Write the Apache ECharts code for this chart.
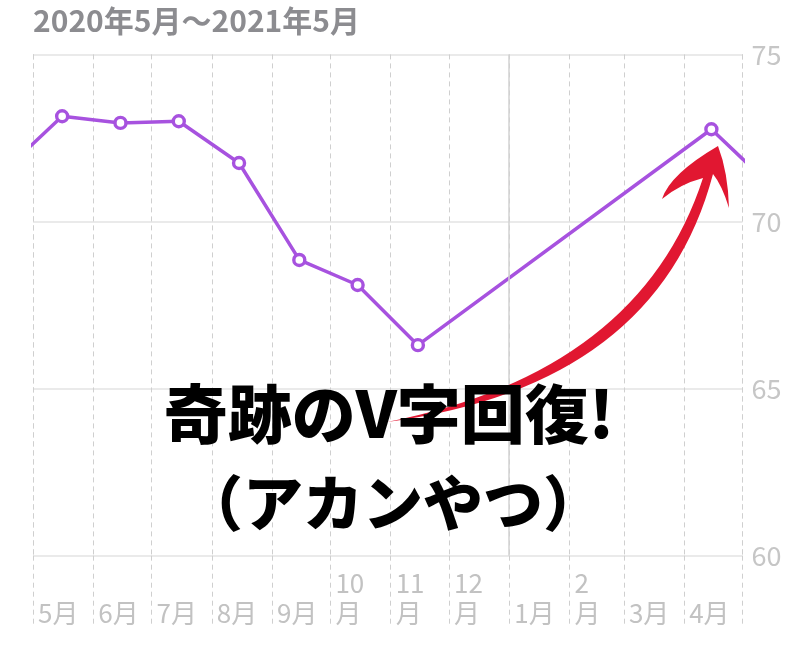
<!DOCTYPE html>
<html>
<head>
<meta charset="utf-8">
<script src="https://cdn.jsdelivr.net/npm/echarts@6/dist/echarts.min.js"></script>
<style>html,body{margin:0;padding:0;background:#fff}#c{width:800px;height:654px}</style>
</head>
<body>
<div id="c"></div>
<script>
const titleText = '2020年5月～2021年5月';
const dates = ['2020-04-15','2020-05-16','2020-06-15','2020-07-15','2020-08-15','2020-09-15','2020-10-15','2020-11-15','2021-04-15','2021-05-15'];
const values = [71.45, 73.15, 72.95, 73.0, 71.75, 68.85, 68.1, 66.3, 72.76, 71.1];
const xMin = '2020-05-01';
const xMax = '2021-05-01';
const yearBoundary = '2021-01-01';
const yTicks = [60, 65, 70, 75];
const twoLineMonths = [10, 11, 12, 2];
const note1 = '奇跡のV字回復!';
const note2 = '（アカンやつ）';

const FONT = '"Noto Sans CJK JP", "Noto Sans", sans-serif';
const ArrowShape = echarts.graphic.extendPath(
  'M 387 422 Q 640 372 703 178 Q 680 184 662 199 Q 670 174 718 146 Q 728 172 729 208 Q 722 185 713 174 Q 657 386 387 422 Z', {});
echarts.graphic.registerShape('redArrow', ArrowShape);

const chart = echarts.init(document.getElementById('c'));
chart.setOption({
  animation: false,
  backgroundColor: '#fff',
  title: {
    text: titleText, left: 33, top: 6, padding: 0,
    textStyle: { fontSize: 30, fontWeight: 'bold', color: '#8c8c90', fontFamily: FONT }
  },
  grid: { left: 33, right: 57.5, top: 54.4, bottom: 98.3, containLabel: false },
  xAxis: {
    type: 'time', min: xMin, max: xMax, splitNumber: 12,
    axisLine: { show: false },
    axisTick: { show: true, length: 69, lineStyle: { color: '#cfcfcf', type: [5, 4], width: 1 } },
    splitLine: { show: true, lineStyle: { color: '#cfcfcf', type: [5, 4], width: 1 } },
    axisLabel: {
      margin: 72, align: 'left', verticalAlign: 'bottom', padding: [0, 0, 0, 5],
      fontSize: 26, lineHeight: 30, color: '#c2c2c2', fontFamily: FONT,
      showMinLabel: true, showMaxLabel: false,
      formatter: function (v) {
        const d = new Date(v);
        if (d.getTime() >= new Date(xMax).getTime()) return '';
        const m = d.getMonth() + 1;
        return twoLineMonths.indexOf(m) >= 0 ? (m + '\n月') : (m + '月');
      }
    }
  },
  yAxis: {
    type: 'value', position: 'right', min: yTicks[0], max: yTicks[yTicks.length - 1], interval: 5,
    axisLine: { show: false }, axisTick: { show: false },
    splitLine: { show: true, lineStyle: { color: '#e3e3e3', width: 1.5 } },
    axisLabel: { margin: 9, fontSize: 27, color: '#c6c6c6', fontFamily: FONT }
  },
  series: [{
    type: 'line',
    data: dates.map((d, i) => [d, values[i]]),
    clip: true,
    symbol: 'circle', symbolSize: 11, showAllSymbol: true,
    lineStyle: { color: '#a752df', width: 3.5 },
    itemStyle: { color: '#ffffff', borderColor: '#a752df', borderWidth: 3.4 },
    markLine: {
      silent: true, symbol: 'none', label: { show: false },
      lineStyle: { color: '#d2d2d2', type: 'solid', width: 1.5 },
      data: [{ xAxis: yearBoundary }, [{ coord: [yearBoundary, 60] }, { coord: [yearBoundary, 57.93] }]]
    },
    z: 3
  }],
  graphic: [
    {
      type: 'redArrow', z: 50,
      style: { fill: '#e11731' }
    },
    {
      type: 'text', z: 60,
      style: { text: note1, x: 389, y: 414, align: 'center', verticalAlign: 'middle',
        fontSize: 64, fontWeight: 900, fontFamily: FONT, fill: '#000' }
    },
    {
      type: 'text', z: 60,
      style: { text: note2, x: 393, y: 503, align: 'center', verticalAlign: 'middle',
        fontSize: 60, fontWeight: 900, fontFamily: FONT, fill: '#000' }
    }
  ]
});
</script>
</body>
</html>
